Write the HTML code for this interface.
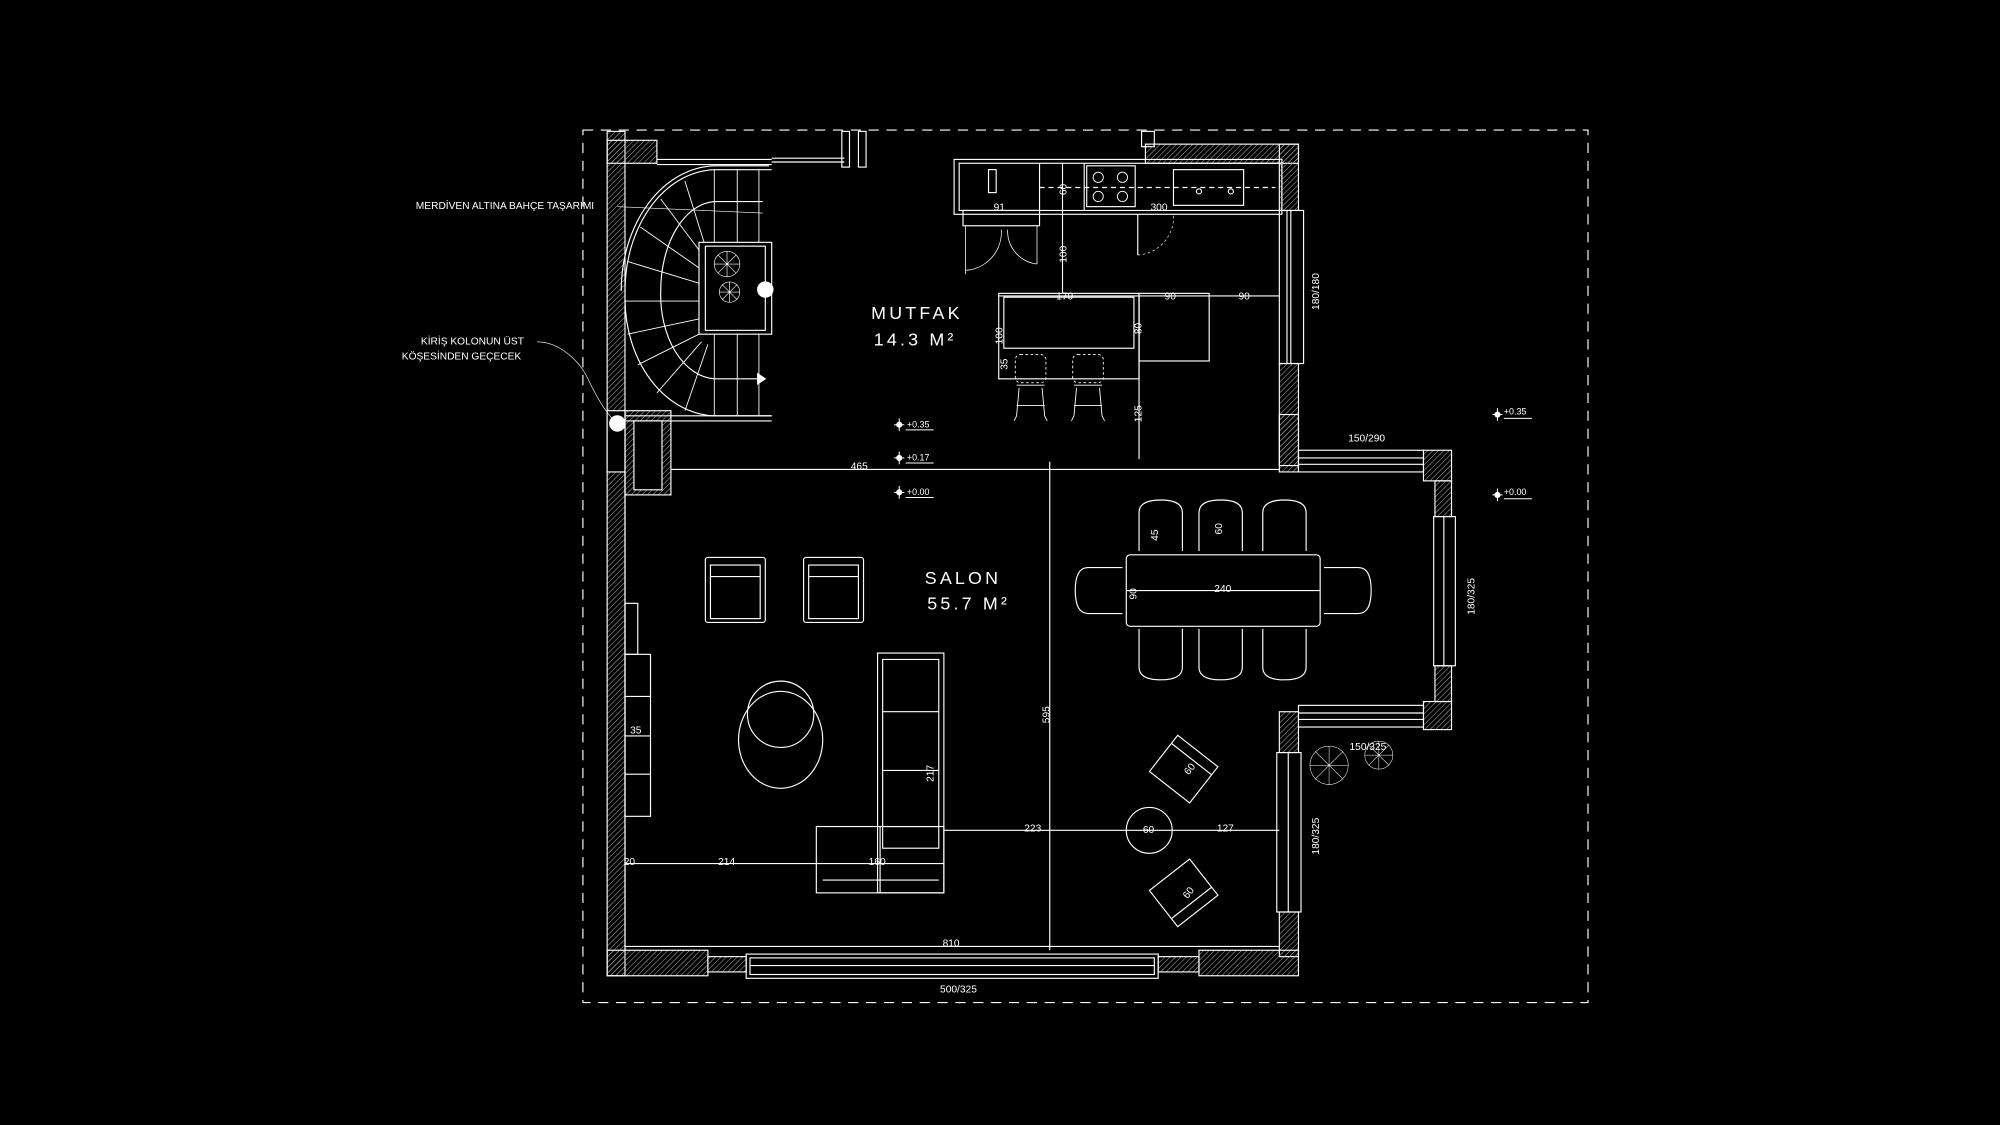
<!DOCTYPE html>
<html><head><meta charset="utf-8"><style>
html,body{margin:0;padding:0;background:#000;width:2000px;height:1125px;overflow:hidden}
svg{display:block}
text{font-family:"Liberation Sans",sans-serif;fill:#fff}
</style></head><body>
<svg width="2000" height="1125" viewBox="0 0 1568 882" xmlns="http://www.w3.org/2000/svg">
<defs>
<pattern id="h" width="3" height="3" patternUnits="userSpaceOnUse" patternTransform="rotate(45)">
<line x1="0" y1="0" x2="0" y2="3" stroke="#aaa" stroke-width="0.8"/></pattern>
</defs>
<rect width="1568" height="882" fill="#000"/>
<g fill="none" stroke="#fff" stroke-width="0.9">
<!-- dashed boundary -->
<rect x="457" y="102" width="788" height="684" stroke-dasharray="8,6"/>
<!-- left wall -->
<rect x="476" y="103" width="14" height="662" fill="url(#h)"/>
<rect x="476" y="110" width="39" height="18" fill="url(#h)"/>
<rect x="476" y="322" width="14" height="48" fill="#000"/>
<line x1="515" y1="125" x2="605" y2="125"/><line x1="515" y1="129" x2="605" y2="129"/>
<rect x="660" y="103" width="6" height="28"/><rect x="673" y="103" width="6" height="28"/>
<line x1="605" y1="124" x2="662" y2="124"/><line x1="605" y1="127" x2="662" y2="127"/>
<!-- column below stair -->
<rect x="490" y="322" width="36" height="66" fill="url(#h)"/>
<rect x="497" y="330" width="22" height="54" fill="#000"/>
<line x1="490" y1="326" x2="605" y2="326"/><line x1="490" y1="330" x2="605" y2="330"/>
<!-- stair -->
<path d="M605 133 L560 133 A72 95 0 0 0 490 228 L490 235 A72 92 0 0 0 560 326 L605 326"/>
<path d="M603 130 L560 130 A75 98 0 0 0 487 228"/>
<path d="M598 158 L560 158 A44 70 0 0 0 518 228 A44 66 0 0 0 560 297 L598 297"/>
<polygon points="594,293 600,297 594,301" fill="#fff"/>
<rect x="548" y="190" width="57" height="72"/>
<rect x="553" y="193" width="47" height="66"/>
<g stroke-width="0.7">
<line x1="560" y1="133" x2="560" y2="190"/><line x1="578" y1="133" x2="578" y2="190"/><line x1="595" y1="133" x2="595" y2="190"/>
<line x1="560" y1="262" x2="560" y2="326"/><line x1="578" y1="262" x2="578" y2="326"/><line x1="595" y1="262" x2="595" y2="326"/>
<line x1="537" y1="142" x2="552" y2="190"/><line x1="518" y1="156" x2="548" y2="196"/><line x1="502" y1="178" x2="548" y2="210"/>
<line x1="492" y1="205" x2="548" y2="222"/><line x1="490" y1="236" x2="548" y2="236"/><line x1="492" y1="262" x2="548" y2="250"/>
<line x1="500" y1="286" x2="548" y2="262"/><line x1="515" y1="308" x2="550" y2="268"/><line x1="537" y1="322" x2="555" y2="270"/>
</g>
<g stroke-width="0.5"><circle cx="570" cy="207" r="10"/><circle cx="572" cy="229" r="8"/>
<path d="M560 207h20M570 197v20M563 200l14 14M577 200l-14 14M564 229h16M572 221v16M566 223l12 12M578 223l-12 12"/></g>
<circle cx="600" cy="227" r="6" fill="#fff"/>
<circle cx="484" cy="332" r="6" fill="#fff"/>
<path d="M598 167 L484 162" stroke-width="0.5"/>
<path d="M421 268 C440 268 455 285 460 295 C468 312 474 322 480 328" stroke-width="0.5"/>
<!-- kitchen -->
<rect x="895" y="103" width="10" height="12"/>
<rect x="898" y="113" width="120" height="15" fill="url(#h)"/>
<rect x="748" y="125" width="257" height="43"/>
<rect x="752" y="128" width="253" height="37"/>
<line x1="815" y1="128" x2="815" y2="165"/><line x1="850" y1="128" x2="850" y2="165"/>
<rect x="852" y="130" width="38" height="32"/>
<g stroke-width="0.7"><circle cx="861" cy="139" r="4"/><circle cx="880" cy="139" r="4"/><circle cx="861" cy="154" r="4"/><circle cx="880" cy="154" r="4"/></g>
<rect x="920" y="133" width="55" height="28"/><circle cx="940" cy="150" r="2"/><circle cx="965" cy="150" r="2"/>
<rect x="775" y="133" width="6" height="18"/>
<line x1="815" y1="147" x2="1000" y2="147" stroke-dasharray="4,3"/>
<line x1="833" y1="128" x2="833" y2="230"/>
<rect x="755" y="165" width="60" height="12"/>
<path d="M757 177v38M813 177v30M757 212 A30 30 0 0 0 785 180 M813 207 A26 26 0 0 1 790 180" stroke-width="0.6"/>
<line x1="892" y1="168" x2="892" y2="200"/><path d="M892 200 A30 30 0 0 0 920 168" stroke-width="0.5" stroke-dasharray="2,2"/>
<!-- kitchen right wall -->
<rect x="1003" y="113" width="15" height="52" fill="url(#h)"/>
<rect x="1003" y="165" width="19" height="120"/><line x1="1012" y1="165" x2="1012" y2="285"/><line x1="1009" y1="165" x2="1009" y2="285"/>
<rect x="1003" y="285" width="15" height="85" fill="url(#h)"/>
<rect x="1003" y="325" width="15" height="40" fill="url(#h)"/>
<!-- island -->
<rect x="783" y="230" width="110" height="67"/>
<rect x="787" y="233" width="102" height="40"/>
<line x1="783" y1="232" x2="1003" y2="232"/>
<rect x="893" y="230" width="55" height="53"/>
<line x1="893" y1="232" x2="893" y2="360"/>
<g stroke-width="0.7">
<rect x="796" y="278" width="24" height="22" rx="4" stroke-dasharray="2,2"/><rect x="841" y="278" width="24" height="22" rx="4" stroke-dasharray="2,2"/>
<path d="M797 302h22M799 304l-2 22M817 304l2 22M797 326l-2 4M819 326l2 4M797 318h22"/>
<path d="M842 302h22M844 304l-2 22M862 304l2 22M842 326l-2 4M864 326l2 4M842 318h22"/>
</g>
<!-- bay -->
<rect x="1018" y="353" width="98" height="17"/><line x1="1018" y1="359" x2="1116" y2="359"/><line x1="1018" y1="364" x2="1116" y2="364"/>
<rect x="1116" y="353" width="22" height="24" fill="url(#h)"/>
<rect x="1125" y="377" width="13" height="28" fill="url(#h)"/>
<rect x="1124" y="405" width="17" height="117"/><line x1="1132" y1="405" x2="1132" y2="522"/>
<rect x="1125" y="522" width="13" height="28" fill="url(#h)"/>
<rect x="1116" y="550" width="22" height="22" fill="url(#h)"/>
<rect x="1018" y="553" width="98" height="17"/><line x1="1018" y1="559" x2="1116" y2="559"/><line x1="1018" y1="564" x2="1116" y2="564"/>
<!-- right salon wall -->
<rect x="1003" y="558" width="15" height="32" fill="url(#h)"/>
<rect x="1001" y="590" width="19" height="125"/><line x1="1010" y1="590" x2="1010" y2="715"/>
<rect x="1003" y="715" width="15" height="35" fill="url(#h)"/>
<!-- bottom wall -->
<rect x="476" y="745" width="79" height="20" fill="url(#h)"/>
<rect x="555" y="750" width="30" height="12" fill="url(#h)"/>
<rect x="585" y="748" width="323" height="19"/>
<rect x="588" y="751" width="317" height="13"/><line x1="588" y1="757" x2="905" y2="757"/>
<rect x="908" y="750" width="32" height="12" fill="url(#h)"/>
<rect x="940" y="745" width="78" height="20" fill="url(#h)"/>
<line x1="490" y1="742" x2="1003" y2="742"/>
<!-- inner wall line -->
<line x1="490" y1="370" x2="490" y2="745"/>
<line x1="526" y1="368" x2="1003" y2="368"/>
<line x1="823" y1="362" x2="823" y2="745"/>
<!-- salon furniture -->
<rect x="553" y="437" width="47" height="51" rx="2"/><rect x="557" y="443" width="39" height="42"/><line x1="557" y1="452" x2="596" y2="452"/>
<rect x="630" y="437" width="47" height="51" rx="2"/><rect x="634" y="443" width="39" height="42"/><line x1="634" y1="452" x2="673" y2="452"/>
<rect x="490" y="473" width="10" height="40"/>
<rect x="490" y="513" width="20" height="127"/><line x1="490" y1="546" x2="510" y2="546"/><line x1="490" y1="607" x2="510" y2="607"/><line x1="490" y1="577" x2="510" y2="577"/>
<circle cx="612" cy="560" r="26"/><ellipse cx="612" cy="580" rx="33" ry="38"/>
<rect x="688" y="512" width="52" height="188"/><rect x="692" y="517" width="44" height="148"/>
<line x1="692" y1="558" x2="736" y2="558"/><line x1="692" y1="604" x2="736" y2="604"/><line x1="692" y1="648" x2="736" y2="648"/>
<rect x="640" y="648" width="100" height="52"/><line x1="645" y1="690" x2="736" y2="690"/><line x1="690" y1="648" x2="690" y2="700"/>
<line x1="490" y1="677" x2="740" y2="677"/>
<line x1="740" y1="651" x2="1003" y2="651"/>
<circle cx="901" cy="651" r="18"/>
<!-- dining -->
<rect x="883" y="435" width="152" height="56" rx="3"/>
<line x1="883" y1="463" x2="1035" y2="463"/>
<g>
<path d="M893 432 v-30 q0-10 17-10 q17 0 17 10 v30"/><path d="M940 432 v-30 q0-10 17-10 q17 0 17 10 v30"/><path d="M990 432 v-30 q0-10 17-10 q17 0 17 10 v30"/>
<path d="M893 493 v30 q0 10 17 10 q17 0 17-10 v-30"/><path d="M940 493 v30 q0 10 17 10 q17 0 17-10 v-30"/><path d="M990 493 v30 q0 10 17 10 q17 0 17-10 v-30"/>
<path d="M880 445 h-27 q-10 0-10 18 q0 18 10 18 h27"/><path d="M1038 445 h27 q10 0 10 18 q0 18-10 18 h-27"/>
</g>
<!-- lounge chairs -->
<g transform="rotate(38 928 603)"><rect x="908" y="585" width="40" height="36"/><line x1="908" y1="593" x2="948" y2="593"/></g>
<g transform="rotate(-38 928 700)"><rect x="908" y="682" width="40" height="36"/><line x1="908" y1="710" x2="948" y2="710"/></g>
<!-- trees -->
<g stroke-width="0.4"><circle cx="1042" cy="600" r="15"/><path d="M1027 600h30M1042 585v30M1031 589l22 22M1053 589l-22 22"/>
<circle cx="1081" cy="592" r="11"/><path d="M1070 592h22M1081 581v22M1073 584l16 16M1089 584l-16 16"/></g>
<!-- level markers -->
<g stroke-width="0.8">
<path d="M705 328v10M701 333h8M710 337h22"/><circle cx="705" cy="333" r="2" fill="#fff"/>
<path d="M705 354v10M701 359h8M710 363h22"/><circle cx="705" cy="359" r="2" fill="#fff"/>
<path d="M705 381v10M701 386h8M710 390h22"/><circle cx="705" cy="386" r="2" fill="#fff"/>
<path d="M1174 320v10M1170 325h8M1179 328h22"/><circle cx="1174" cy="325" r="2" fill="#fff"/>
<path d="M1174 383v10M1170 388h8M1179 391h22"/><circle cx="1174" cy="388" r="2" fill="#fff"/>
</g>
</g>
<!-- text -->
<g font-size="8">
<text x="326" y="164">MERDİVEN ALTINA BAHÇE TAŞARIMI</text>
<text x="330" y="270">KİRİŞ KOLONUN ÜST</text>
<text x="315" y="282">KÖŞESİNDEN GEÇECEK</text>
<text x="779" y="165">91</text><text x="902" y="165">300</text>
<text x="828" y="235">170</text><text x="913" y="235">90</text><text x="971" y="235">90</text>
<text x="667" y="368">465</text>
<text x="494" y="575">35</text><text x="489" y="678">20</text><text x="563" y="678">214</text><text x="681" y="678">160</text>
<text x="803" y="652">223</text><text x="954" y="652">127</text><text x="896" y="653">60</text>
<text x="739" y="742">810</text><text x="737" y="778">500/325</text>
<text x="952" y="464">240</text>
<text x="1057" y="346">150/290</text><text x="1058" y="588">150/325</text>
<text x="711" y="335" font-size="7">+0.35</text><text x="711" y="361" font-size="7">+0.17</text><text x="711" y="388" font-size="7">+0.00</text>
<text x="1179" y="325" font-size="7">+0.35</text><text x="1179" y="388" font-size="7">+0.00</text>
<text transform="translate(836,153) rotate(-90)">60</text>
<text transform="translate(836,206) rotate(-90)">100</text>
<text transform="translate(895,262) rotate(-90)">80</text>
<text transform="translate(786,270) rotate(-90)">100</text>
<text transform="translate(790,290) rotate(-90)">35</text>
<text transform="translate(895,331) rotate(-90)">125</text>
<text transform="translate(1034,243) rotate(-90)">180/180</text>
<text transform="translate(823,567) rotate(-90)">595</text>
<text transform="translate(732,613) rotate(-90)">217</text>
<text transform="translate(908,424) rotate(-90)">45</text>
<text transform="translate(958,419) rotate(-90)">60</text>
<text transform="translate(891,470) rotate(-90)">90</text>
<text transform="translate(1156,482) rotate(-90)">180/325</text>
<text transform="translate(1034,670) rotate(-90)">180/325</text>
<text transform="translate(932,608) rotate(-52)">60</text>
<text transform="translate(931,705) rotate(-52)">60</text>
</g>
<g font-size="14" letter-spacing="2.5">
<text x="683" y="250">MUTFAK</text>
<text x="685" y="271">14.3 M²</text>
<text x="725" y="458">SALON</text>
<text x="727" y="478">55.7 M²</text>
</g>
</svg>
</body></html>
